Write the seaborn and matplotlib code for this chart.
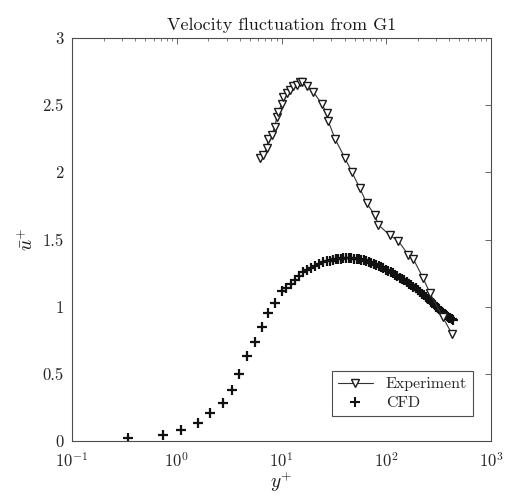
import matplotlib
matplotlib.use("Agg")
import matplotlib.pyplot as plt
import seaborn as sns
import numpy as np
import pandas as pd
from matplotlib.ticker import FuncFormatter, LogLocator, FixedLocator, NullFormatter
from matplotlib.lines import Line2D

# ---- data ----
exp_yplus = [6.24, 6.70, 7.22, 7.48, 8.06, 8.67, 9.00, 9.32, 10.05, 10.4, 11.2, 12.05,
             12.97, 13.96, 15.0, 15.6, 17.4, 20.1, 24.2, 27.0, 28.0, 32.4, 40.4, 46.8,
             56.1, 65.0, 78.1, 84.0, 108.6, 130.4, 162.5, 181.3, 225.7, 261.6, 348.0, 421.7]
exp_u = [2.105, 2.13, 2.18, 2.25, 2.28, 2.34, 2.41, 2.45, 2.51, 2.56, 2.59, 2.61,
         2.64, 2.65, 2.675, 2.675, 2.64, 2.60, 2.51, 2.44, 2.38, 2.25, 2.105, 2.005,
         1.88, 1.77, 1.68, 1.61, 1.53, 1.49, 1.385, 1.355, 1.21, 1.10, 0.92, 0.80]

cfd_yplus = [0.345, 0.745, 1.11, 1.61, 2.08, 2.75, 3.35, 3.96, 4.72, 5.58, 6.47, 7.38, 8.67,
             10.05, 11.1, 12.2, 13.4, 14.7, 16.1, 17.6, 19.2, 21, 23, 25, 27, 29, 31, 33, 35,
             37, 39, 41.5, 44, 46.5, 49, 52, 55, 58, 61, 64.5, 68, 72, 76, 80, 84.5, 89, 94,
             99, 104, 110, 116, 122, 128, 135, 142, 149, 157, 165, 173, 182, 191, 200, 210,
             220, 230, 240, 250, 260, 270, 280, 290, 300, 310, 320, 330, 340, 350, 360, 370,
             380, 390, 400, 410, 420, 430]
cfd_u = [0.02, 0.045, 0.082, 0.136, 0.206, 0.285, 0.38, 0.50, 0.63, 0.74, 0.85, 0.95, 1.025,
         1.12, 1.14, 1.17, 1.20, 1.23, 1.255, 1.275, 1.29, 1.305, 1.32, 1.33, 1.337, 1.343,
         1.348, 1.352, 1.355, 1.357, 1.359, 1.36, 1.36, 1.36, 1.358, 1.356, 1.354, 1.35,
         1.345, 1.34, 1.333, 1.326, 1.318, 1.31, 1.302, 1.294, 1.285, 1.276, 1.267, 1.257,
         1.247, 1.237, 1.227, 1.216, 1.205, 1.195, 1.183, 1.172, 1.161, 1.149, 1.137, 1.125,
         1.11, 1.098, 1.085, 1.073, 1.06, 1.048, 1.036, 1.024, 1.012, 1.0, 0.99, 0.98, 0.97,
         0.962, 0.954, 0.946, 0.939, 0.932, 0.925, 0.918, 0.912, 0.906, 0.90]

y_ticks = [0, 0.5, 1, 1.5, 2, 2.5, 3]
title = "Velocity fluctuation from G1"
series_names = ["Experiment", "CFD"]

# ---- style ----
sns.set_style("white")
plt.rcParams["font.family"] = ["cmr10", "DejaVu Serif"]
plt.rcParams["mathtext.fontset"] = "cm"
plt.rcParams["axes.unicode_minus"] = False
plt.rcParams["axes.formatter.use_mathtext"] = True

fig = plt.figure(figsize=(5.05, 5.0), dpi=100)
ax = fig.add_axes([72 / 505, 59 / 500, (491 - 72) / 505, (441 - 38) / 500])

exp_df = pd.DataFrame({"yplus": exp_yplus, "u": exp_u})
cfd_df = pd.DataFrame({"yplus": cfd_yplus, "u": cfd_u})

sns.lineplot(data=exp_df, x="yplus", y="u", ax=ax, sort=False, estimator=None,
             color="#333333", linewidth=0.8, marker="v", markersize=5.5,
             markerfacecolor="white", markeredgecolor="#1a1a1a", markeredgewidth=1.0)
sns.scatterplot(data=cfd_df, x="yplus", y="u", ax=ax, marker="+", s=48,
                color="#111111", linewidth=1.6)

ax.set_xscale("log")
ax.set_xlim(0.1, 1000)
ax.set_ylim(0, 3)
ax.yaxis.set_major_locator(FixedLocator(y_ticks))
ax.yaxis.set_major_formatter(FuncFormatter(lambda v, p: f"{v:g}"))
ax.xaxis.set_major_locator(LogLocator(base=10, numticks=10))
ax.xaxis.set_minor_locator(LogLocator(base=10, subs=np.arange(2, 10), numticks=20))
ax.xaxis.set_minor_formatter(NullFormatter())

edge = "#4d4d4d"
for s in ax.spines.values():
    s.set_color(edge)
    s.set_linewidth(0.8)
    s.set_visible(True)
ax.tick_params(which="both", direction="in", top=True, right=True, colors=edge,
               labelcolor="#262626", labelsize=12)
ax.tick_params(which="major", length=4, width=0.6)
ax.tick_params(axis="x", which="major", pad=7)
ax.tick_params(axis="y", which="major", pad=6)
ax.tick_params(which="minor", length=2, width=0.5)

ax.set_title(title, fontsize=13, color="#1a1a1a", pad=6)
ax.set_xlabel(r"$y^{+}$", fontsize=14, color="#1a1a1a", labelpad=0)
ax.set_ylabel(r"$\bar{u}^{+}$", fontsize=14, color="#1a1a1a", labelpad=4)

handles = [
    Line2D([], [], color="#333333", linewidth=0.8, marker="v", markersize=6,
           markerfacecolor="white", markeredgecolor="#1a1a1a"),
    Line2D([], [], color="#111111", linestyle="none", marker="+", markersize=7,
           markeredgewidth=1.5),
]
leg = ax.legend(handles, series_names, loc="lower right", fontsize=11.5, frameon=True,
                fancybox=False, edgecolor=edge, framealpha=1, handlelength=2.2,
                borderpad=0.35, labelspacing=0.3, bbox_to_anchor=(0.975, 0.043))
leg.get_frame().set_linewidth(0.8)

fig.savefig("out.png", dpi=100)
